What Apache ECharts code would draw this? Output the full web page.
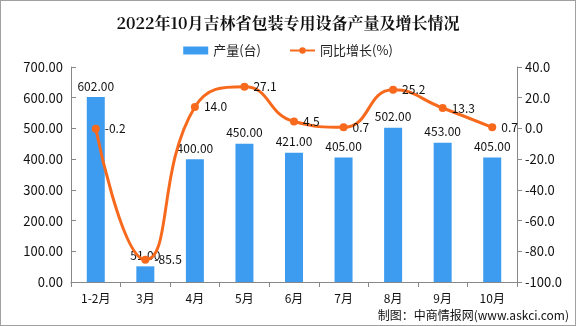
<!DOCTYPE html>
<html><head><meta charset="utf-8">
<script src="https://cdn.jsdelivr.net/npm/echarts@6/dist/echarts.min.js"></script>
<style>html,body{margin:0;padding:0;background:#fff}#c{width:574px;height:324px;border:1px solid #a0a0a0}</style>
</head><body><div id="c"></div>
<script>
const categories = ['1-2月','3月','4月','5月','6月','7月','8月','9月','10月'];
const production = [602, 51, 400, 450, 421, 405, 502, 453, 405];
const growth = [-0.2, -85.5, 14.0, 27.1, 4.5, 0.7, 25.2, 13.3, 0.7];
const leftTicks = [0, 100, 200, 300, 400, 500, 600, 700];
const rightTicks = [-100, -80, -60, -40, -20, 0, 20, 40];

const chart = echarts.init(document.getElementById('c'));
const lblFont = '"Noto Sans CJK SC", sans-serif';
chart.setOption({
  animation: false,
  title: {
    text: '2022年10月吉林省包装专用设备产量及增长情况',
    left: 'center', top: 9,
    textStyle: {fontSize: 16, fontWeight: 'bold', fontFamily: '"Noto Serif CJK SC", "Noto Sans CJK SC", serif', color: '#111'}
  },
  legend: {
    top: 38, left: 'center', itemGap: 28, itemWidth: 25, itemHeight: 8,
    textStyle: {fontSize: 13, fontFamily: lblFont, color: '#222'},
    data: [{name: '产量(台)', icon: 'rect'}, {name: '同比增长(%)'}]
  },
  grid: {left: 70, right: 58, top: 66, bottom: 43},
  xAxis: {
    type: 'category', data: categories,
    axisLine: {lineStyle: {color: '#888'}},
    axisTick: {show: true, alignWithLabel: false, lineStyle: {color: '#888'}},
    axisLabel: {color: '#111', fontSize: 12, fontFamily: lblFont, margin: 10}
  },
  yAxis: [{
    type: 'value', min: leftTicks[0], max: leftTicks[leftTicks.length - 1], interval: 100,
    axisLine: {show: true, lineStyle: {color: '#888'}},
    axisTick: {show: true, inside: true, lineStyle: {color: '#888'}},
    splitLine: {show: false},
    axisLabel: {color: '#111', fontSize: 13, fontFamily: lblFont, formatter: v => v.toFixed(2)}
  }, {
    type: 'value', min: rightTicks[0], max: rightTicks[rightTicks.length - 1], interval: 20,
    axisLine: {show: true, lineStyle: {color: '#888'}},
    axisTick: {show: true, lineStyle: {color: '#888'}},
    splitLine: {show: false},
    axisLabel: {color: '#111', fontSize: 13, fontFamily: lblFont, formatter: v => v.toFixed(1)}
  }],
  series: [{
    name: '产量(台)', type: 'bar', data: production, barWidth: 18,
    itemStyle: {color: '#3e9cf0'},
    label: {show: true, position: 'top', color: '#111', fontSize: 12, fontFamily: lblFont, formatter: p => p.value.toFixed(2)}
  }, {
    name: '同比增长(%)', type: 'line', yAxisIndex: 1, data: growth, smooth: true,
    symbol: 'circle', symbolSize: 8,
    lineStyle: {color: '#f76a1e', width: 3},
    itemStyle: {color: '#f76a1e'},
    label: {show: true, position: 'right', color: '#111', fontSize: 12, fontFamily: lblFont, formatter: p => p.value.toFixed(1)}
  }],
  graphic: [{
    type: 'text', right: 6, bottom: 4,
    style: {text: '制图：中商情报网(www.askci.com)', fontSize: 12, fontFamily: lblFont, fill: '#111'}
  }]
});
</script></body></html>
